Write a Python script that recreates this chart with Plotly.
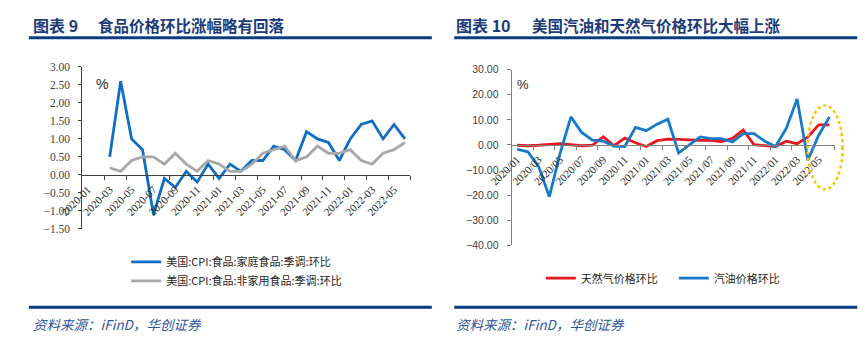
import plotly.graph_objects as go

W, H = 865, 345

# ---------------- data ----------------
months_a = ["2020-01", "2020-02", "2020-03", "2020-04", "2020-05", "2020-06",
            "2020-07", "2020-08", "2020-09", "2020-10", "2020-11", "2020-12",
            "2021-01", "2021-02", "2021-03", "2021-04", "2021-05", "2021-06",
            "2021-07", "2021-08", "2021-09", "2021-10", "2021-11", "2021-12",
            "2022-01", "2022-02", "2022-03", "2022-04", "2022-05", "2022-06"]
home_food = [None, None, 0.5, 2.6, 1.0, 0.7, -1.1, -0.1, -0.35, 0.1, -0.2, 0.3,
             -0.1, 0.3, 0.1, 0.4, 0.4, 0.8, 0.7, 0.4, 1.2, 1.0, 0.9, 0.4,
             1.0, 1.4, 1.5, 1.0, 1.4, 1.0]
away_food = [None, None, 0.2, 0.1, 0.4, 0.5, 0.5, 0.3, 0.6, 0.3, 0.1, 0.4,
             0.3, 0.1, 0.1, 0.3, 0.6, 0.7, 0.8, 0.4, 0.5, 0.8, 0.6, 0.6,
             0.7, 0.4, 0.3, 0.6, 0.7, 0.9]

months_b = ["2020/01", "2020/02", "2020/03", "2020/04", "2020/05", "2020/06",
            "2020/07", "2020/08", "2020/09", "2020/10", "2020/11", "2020/12",
            "2021/01", "2021/02", "2021/03", "2021/04", "2021/05", "2021/06",
            "2021/07", "2021/08", "2021/09", "2021/10", "2021/11", "2021/12",
            "2022/01", "2022/02", "2022/03", "2022/04", "2022/05", "2022/06"]
natgas = [-0.1, -0.3, -0.1, 0.1, 0.5, 0.1, -0.3, -0.1, 3.3, -0.3, 2.7, 0.9,
          -0.6, 1.7, 2.3, 2.2, 1.9, 1.8, 1.8, 1.4, 2.6, 6.0, 0.1, -0.4,
          -0.6, 1.5, 0.5, 3.2, 8.0, 8.0]
gasoline = [-1.7, -2.7, -8.5, -20.6, -3.3, 11.2, 5.0, 1.9, 1.5, -0.4, -0.6, 7.0,
            5.7, 8.3, 10.3, -3.2, 0.0, 3.2, 2.5, 2.5, 1.2, 4.5, 4.5, 1.5,
            -0.6, 6.7, 18.3, -6.1, 3.9, 11.2]

names_a = ["美国:CPI:食品:家庭食品:季调:环比", "美国:CPI:食品:非家用食品:季调:环比"]
names_b = ["天然气价格环比", "汽油价格环比"]
titles = [("图表 9", "食品价格环比涨幅略有回落"), ("图表 10", "美国汽油和天然气价格环比大幅上涨")]
source = "资料来源：iFinD，华创证券"


def px(x):
    return x / W


def py(y):
    return 1 - y / H


xa = list(range(len(months_a)))
xb = list(range(len(months_b)))

fig = go.Figure()
fig.add_trace(go.Scatter(x=xa, y=home_food, name=names_a[0], mode="lines",
                         line=dict(color="#0F6EC2", width=2.8),
                         xaxis="x", yaxis="y", legend="legend"))
fig.add_trace(go.Scatter(x=xa, y=away_food, name=names_a[1], mode="lines",
                         line=dict(color="#A8A8A8", width=2.8),
                         xaxis="x", yaxis="y", legend="legend"))
fig.add_trace(go.Scatter(x=xb, y=natgas, name=names_b[0], mode="lines",
                         line=dict(color="#E8161F", width=2.8),
                         xaxis="x2", yaxis="y2", legend="legend2"))
fig.add_trace(go.Scatter(x=xb, y=gasoline, name=names_b[1], mode="lines",
                         line=dict(color="#1679C9", width=2.8),
                         xaxis="x2", yaxis="y2", legend="legend2"))

serif = "Liberation Serif"
sans = "Liberation Sans"
cjk = "Noto Sans CJK SC"


def xaxis_cfg(months, x0, x1, y_zero, color):
    n = len(months)
    return dict(
        domain=[px(x0), px(x1)], range=[-0.5, n - 0.5],
        anchor="free", position=py(y_zero),
        tickmode="array", tickvals=list(range(0, n, 2)), ticktext=months[::2],
        tickangle=-45, ticks="", showgrid=False, zeroline=False,
        showline=True, linecolor=color, linewidth=1,
        tickfont=dict(family=serif, size=11, color="#262626"),
        ticklabelstandoff=3,
        minor=dict(tickmode="array", tickvals=[v + 1.5 for v in range(0, n, 2)],
                   ticks="outside", ticklen=4, tickcolor=color, tickwidth=1,
                   showgrid=False),
    )


layout = dict(
    width=W, height=H, autosize=False,
    margin=dict(l=0, r=0, t=0, b=0),
    paper_bgcolor="white", plot_bgcolor="white",
    xaxis=xaxis_cfg(months_a, 61, 398, 175, "#404040"),
    yaxis=dict(domain=[py(231), py(63)], range=[-1.5, 3], dtick=0.5,
               tickformat=".2f", ticks="outside", ticklen=3, tickcolor="#404040",
               showline=True, linecolor="#404040", showgrid=False, zeroline=False,
               tickfont=dict(family=serif, size=11.5, color="#404040"),
               ticklabelstandoff=6),
    xaxis2=xaxis_cfg(months_b, 502, 834, 144, "#808080"),
    yaxis2=dict(domain=[py(248), py(66)], range=[-40, 30], dtick=10,
                tickformat=".2f", ticks="outside", ticklen=4, tickcolor="#808080",
                showline=True, linecolor="#808080", showgrid=False, zeroline=False,
                tickfont=dict(family=sans, size=10.5, color="#404040"),
                ticklabelstandoff=6, anchor="x2"),
    legend=dict(x=px(106), y=py(250), xanchor="left", yanchor="top",
                orientation="v", font=dict(family=cjk, size=11, color="#262626"),
                bgcolor="rgba(0,0,0,0)", tracegroupgap=4, itemwidth=30),
    legend2=dict(x=px(532), y=py(267), xanchor="left", yanchor="top",
                 orientation="h", font=dict(family=cjk, size=11, color="#262626"),
                 bgcolor="rgba(0,0,0,0)", itemwidth=30, entrywidth=88),
    showlegend=True,
)
fig.update_layout(**layout)

ann = []
shapes = []
for k, (x0, x1, numx, textx) in enumerate([(6, 420, 8, 75), (443, 857, 443, 521)]):
    head, body = titles[k]
    ann.append(dict(text="<b>" + head + "</b>", x=px(numx), y=py(20), xref="paper", yref="paper",
                    xanchor="left", yanchor="middle", showarrow=False,
                    font=dict(family=cjk, size=16, color="#1B3C78")))
    ann.append(dict(text="<b>" + body + "</b>", x=px(textx), y=py(20), xref="paper", yref="paper",
                    xanchor="left", yanchor="middle", showarrow=False,
                    font=dict(family=cjk, size=15.5, color="#1B3C78")))
    ann.append(dict(text="<i>" + source + "</i>", x=px(numx), y=py(329), xref="paper", yref="paper",
                    xanchor="left", yanchor="middle", showarrow=False,
                    font=dict(family=cjk, size=13.5, color="#2F5597")))
    shapes.append(dict(type="line", xref="paper", yref="paper", x0=px(x0), x1=px(x1),
                       y0=py(33), y1=py(33), line=dict(color="#0B3C80", width=3)))
    shapes.append(dict(type="line", xref="paper", yref="paper", x0=px(x0), x1=px(x1),
                       y0=py(312), y1=py(312), line=dict(color="#0B3C80", width=3)))

ann.append(dict(text="%", x=px(73), y=py(70), xref="paper", yref="paper",
                showarrow=False, font=dict(family=sans, size=14, color="#262626")))
ann.append(dict(text="%", x=px(514), y=py(72), xref="paper", yref="paper",
                showarrow=False, font=dict(family=sans, size=13, color="#262626")))

shapes.append(dict(type="circle", xref="paper", yref="paper",
                   x0=px(806), x1=px(842), y0=py(190), y1=py(103),
                   line=dict(color="#FFC000", width=2.5, dash="dot")))

fig.update_layout(annotations=ann, shapes=shapes)
fig.write_html("out.html")
